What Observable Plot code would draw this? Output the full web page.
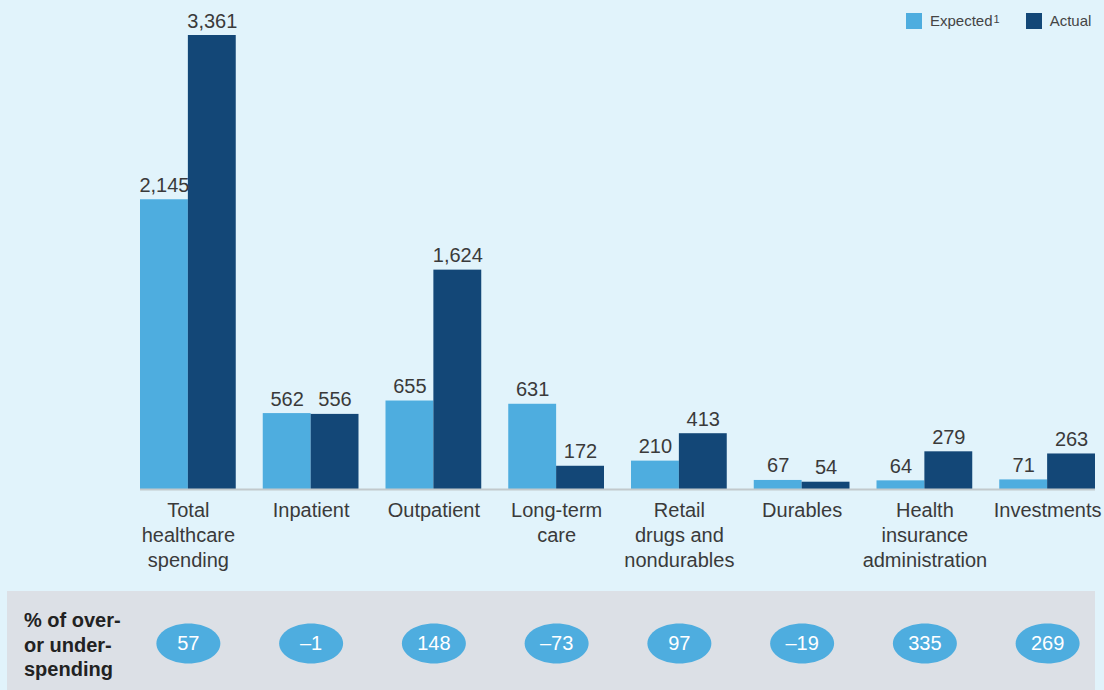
<!DOCTYPE html>
<html>
<head>
<meta charset="utf-8">
<script src="https://cdn.jsdelivr.net/npm/d3@7"></script>
<script src="https://cdn.jsdelivr.net/npm/@observablehq/plot@0.6"></script>
<style>
  html, body { margin: 0; padding: 0; background: #e1f3fb; }
  body { width: 1104px; height: 690px; position: relative; overflow: hidden; font-family: "Liberation Sans", Arial, sans-serif; color: #333; }
  #chart { position: absolute; left: 0; top: 0; }
  #legend { position: absolute; top: 12px; left: 906px; font-size: 15px; color: #444; display: flex; align-items: center; }
  #legend .sw { width: 16px; height: 16px; display: inline-block; margin-right: 8px; }
  #legend .item { display: flex; align-items: center; margin-right: 26px; }
  #legend sup { font-size: 11px; position: relative; top: -2px; margin-left: 1px; }
  #band { position: absolute; left: 7px; top: 591px; width: 1088px; height: 99px; background: #dce0e6; }
  #bandlabel { position: absolute; left: 24px; top: 608px; font-weight: bold; font-size: 20px; line-height: 24.5px; color: #222; }
  #bubbles { position: absolute; left: 0; top: 591px; }
</style>
</head>
<body>
<div id="band"></div>
<div id="chart"></div>
<div id="legend"></div>
<div id="bandlabel">% of over-<br>or under-<br>spending</div>
<div id="bubbles"></div>
<script>
const categories = ["Total", "Inpatient", "Outpatient", "LTC", "Retail", "Durables", "HIA", "Investments"];
const categoryLabels = ["Total\nhealthcare\nspending", "Inpatient", "Outpatient", "Long-term\ncare", "Retail\ndrugs and\nnondurables", "Durables", "Health\ninsurance\nadministration", "Investments"];
const expected = [2145, 562, 655, 631, 210, 67, 64, 71];
const actual = [3361, 556, 1624, 172, 413, 54, 279, 263];
const overUnder = [57, -1, 148, -73, 97, -19, 335, 269];
const seriesNames = ["Expected", "Actual"];
const colors = ["#4eaddf", "#134777"];

const W = 1104, ML = 140, MR = 9, PAD = 0.22;
const step = (W - ML - MR) / (categories.length - PAD);
const bw = step * (1 - PAD);
const half = bw / 2;

const rows = categories.map((c, i) => ({cat: c, expected: expected[i], actual: actual[i], pct: overUnder[i]}));
const labelOf = new Map(categories.map((c, i) => [c, categoryLabels[i]]));
const fmt = d3.format(",");
const xOpts = {type: "band", domain: categories, paddingInner: PAD, paddingOuter: 0, round: false, axis: null};

const chart = Plot.plot({
  width: W, height: 590,
  marginLeft: ML, marginRight: MR, marginTop: 35, marginBottom: 101,
  style: {background: "transparent", fontFamily: "'Liberation Sans', Arial, sans-serif", color: "#3a3a3a"},
  x: xOpts,
  y: {domain: [0, 3361], axis: null},
  marks: [
    Plot.barY(rows, {x: "cat", y: "expected", fill: colors[0], insetRight: half, insetLeft: 0}),
    Plot.barY(rows, {x: "cat", y: "actual", fill: colors[1], insetLeft: half, insetRight: 0}),
    Plot.ruleY([0], {stroke: "#c2c9cc", strokeWidth: 2}),
    Plot.text(rows, {x: "cat", y: "expected", text: d => fmt(d.expected), dx: -half / 2, dy: -8, lineAnchor: "bottom", fontSize: 20, fill: "#3a3a3a"}),
    Plot.text(rows, {x: "cat", y: "actual", text: d => fmt(d.actual), dx: half / 2, dy: -8, lineAnchor: "bottom", fontSize: 20, fill: "#3a3a3a"}),
    Plot.axisX({tickSize: 0, tickPadding: 10, fontSize: 20, lineHeight: 1.25, label: null, tickFormat: d => labelOf.get(d), fill: "#3a3a3a"})
  ]
});
document.getElementById("chart").appendChild(chart);

const RX = 32, RY = 20, K = 0.5523;
const ellipse = {
  draw(ctx) {
    ctx.moveTo(RX, 0);
    ctx.bezierCurveTo(RX, RY * K, RX * K, RY, 0, RY);
    ctx.bezierCurveTo(-RX * K, RY, -RX, RY * K, -RX, 0);
    ctx.bezierCurveTo(-RX, -RY * K, -RX * K, -RY, 0, -RY);
    ctx.bezierCurveTo(RX * K, -RY, RX, -RY * K, RX, 0);
    ctx.closePath();
  }
};

const bubbles = Plot.plot({
  width: W, height: 99,
  marginLeft: ML, marginRight: MR, marginTop: 5, marginBottom: 0,
  style: {background: "transparent", fontFamily: "'Liberation Sans', Arial, sans-serif"},
  x: xOpts,
  marks: [
    Plot.dot(rows, {x: "cat", frameAnchor: "middle", symbol: ellipse, r: 20, fill: colors[0], stroke: null}),
    Plot.text(rows, {x: "cat", frameAnchor: "middle", text: d => d.pct < 0 ? "\u2013" + Math.abs(d.pct) : String(d.pct), fill: "white", fontSize: 20})
  ]
});
document.getElementById("bubbles").appendChild(bubbles);

const legend = document.getElementById("legend");
seriesNames.forEach((s, i) => {
  const item = document.createElement("span");
  item.className = "item";
  item.innerHTML = `<span class="sw" style="background:${colors[i]}"></span>${s}${i === 0 ? "<sup>1</sup>" : ""}`;
  legend.appendChild(item);
});
</script>
</body>
</html>
